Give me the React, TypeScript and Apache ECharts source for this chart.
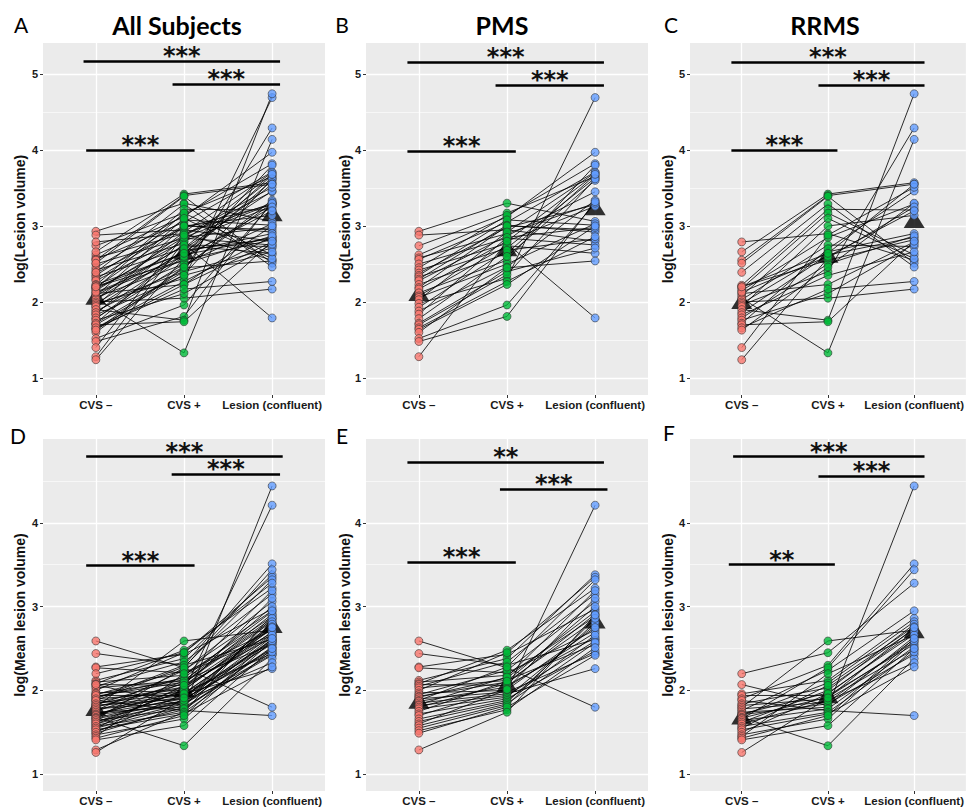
import React, { useEffect, useRef } from "react";
import * as echarts from "echarts";

const CATEGORIES = ["CVS –", "CVS +", "Lesion (confluent)"];
const CATEGORY_POS = [1, 2, 3];
const TOP_Y_TICKS = [1, 2, 3, 4, 5];
const BOTTOM_Y_TICKS = [1, 2, 3, 4];
const MINOR_Y = [1.5, 2.5, 3.5, 4.5];
const COLORS = ["#F8766D", "#00BA38", "#619CFF"];

// PMS subjects – log(Lesion volume); index i is one subject across the three arrays
const PMS_VOL_NEG = [2.93, 2.88, 2.74, 2.62, 2.58, 2.56, 2.5, 2.45, 2.42, 2.38, 2.35, 2.33, 2.3, 2.28, 2.23, 2.19, 2.17, 2.12, 2.08, 2.06, 2.03, 1.98, 1.93, 1.88, 1.84, 1.78, 1.72, 1.7, 1.66, 1.64, 1.6, 1.52, 1.48, 1.28];
const PMS_VOL_POS = [3.3, 2.95, 3.17, 3.12, 2.9, 3.05, 2.84, 3.14, 2.77, 2.98, 3.08, 2.71, 3.01, 2.87, 2.64, 3.0, 2.8, 2.55, 2.74, 2.5, 2.92, 2.31, 2.68, 2.46, 2.85, 2.6, 2.4, 2.36, 2.27, 2.23, 2.45, 1.96, 1.81, 2.8];
const PMS_VOL_CONF = [3.06, 2.8, 3.65, 3.97, 3.3, 3.71, 2.75, 3.82, 1.79, 3.28, 3.01, 3.63, 2.92, 3.45, 3.67, 2.95, 3.26, 3.8, 2.64, 3.03, 3.7, 4.69, 2.83, 3.34, 2.98, 3.6, 2.71, 3.62, 2.86, 3.0, 2.54, 3.3, 3.32, 3.68];

// RRMS subjects – log(Lesion volume)
const RRMS_VOL_NEG = [2.79, 2.66, 2.55, 2.51, 2.39, 2.22, 2.2, 2.18, 2.15, 2.11, 2.08, 2.05, 2.03, 2.0, 1.98, 1.96, 1.94, 1.9, 1.86, 1.83, 1.79, 1.76, 1.72, 1.7, 1.66, 1.63, 1.4, 1.24, 2.13, 2.2];
const RRMS_VOL_POS = [2.9, 3.42, 3.4, 3.39, 3.29, 3.22, 2.55, 3.17, 2.85, 2.23, 3.1, 1.33, 2.75, 2.05, 2.66, 2.4, 3.0, 1.76, 2.62, 2.35, 2.5, 2.11, 2.7, 1.74, 2.17, 2.46, 2.88, 2.58, 2.6, 2.64];
const RRMS_VOL_CONF = [2.55, 3.57, 3.55, 2.51, 2.46, 3.21, 2.82, 2.62, 3.29, 2.79, 2.57, 4.14, 2.73, 2.17, 2.9, 4.29, 3.14, 4.74, 2.85, 2.66, 2.87, 2.76, 3.46, 2.8, 2.27, 3.3, 3.51, 3.25, 3.2, 3.55];

// PMS subjects – log(Mean lesion volume)
const PMS_MEAN_NEG = [2.59, 2.44, 2.28, 2.27, 2.12, 2.1, 2.08, 2.07, 2.05, 2.03, 2.0, 1.97, 1.95, 1.93, 1.92, 1.9, 1.88, 1.87, 1.85, 1.83, 1.82, 1.8, 1.78, 1.75, 1.72, 1.7, 1.66, 1.63, 1.6, 1.58, 1.55, 1.52, 1.49, 1.29];
const PMS_MEAN_POS = [2.27, 2.3, 2.43, 2.21, 2.38, 2.18, 2.48, 2.06, 2.34, 2.12, 2.45, 2.0, 2.24, 2.1, 2.15, 1.98, 2.28, 2.04, 1.96, 2.16, 1.94, 2.08, 1.92, 2.11, 1.9, 2.02, 1.88, 1.86, 2.01, 1.84, 1.82, 1.77, 1.8, 1.74];
const PMS_MEAN_CONF = [1.8, 2.61, 2.97, 2.72, 3.38, 2.88, 3.22, 2.63, 3.15, 2.55, 3.35, 4.21, 3.06, 2.84, 2.94, 2.44, 3.32, 2.69, 2.26, 3.19, 2.59, 2.91, 2.78, 3.0, 2.47, 3.1, 2.66, 2.81, 2.75, 2.57, 2.86, 2.51, 2.42, 2.9];

// RRMS subjects – log(Mean lesion volume)
const RRMS_MEAN_NEG = [2.2, 2.07, 1.96, 1.94, 1.9, 1.88, 1.84, 1.82, 1.8, 1.78, 1.76, 1.74, 1.72, 1.71, 1.7, 1.68, 1.67, 1.66, 1.64, 1.62, 1.6, 1.57, 1.55, 1.53, 1.5, 1.47, 1.45, 1.43, 1.41, 1.26];
const RRMS_MEAN_POS = [2.45, 1.82, 2.12, 1.94, 2.3, 1.76, 2.03, 1.9, 2.59, 1.86, 2.24, 1.8, 1.97, 1.84, 2.09, 1.34, 1.92, 2.27, 1.78, 2.0, 1.88, 1.74, 2.06, 1.72, 1.96, 1.66, 2.2, 1.7, 1.58, 1.91];
const RRMS_MEAN_CONF = [3.28, 2.64, 2.86, 2.55, 3.51, 1.7, 2.73, 2.49, 2.72, 2.61, 2.95, 4.44, 2.67, 2.43, 2.82, 2.38, 2.58, 3.44, 2.52, 2.79, 2.33, 2.46, 2.76, 2.28, 2.7, 2.59, 2.66, 2.62, 2.5, 2.75];

// significance brackets: from category x0 to x1 at height y
const BRACKETS_A = [
  { x0: 0.86, x1: 3.09, y: 5.17, label: "***" },
  { x0: 1.87, x1: 3.09, y: 4.87, label: "***" },
  { x0: 0.89, x1: 2.12, y: 4.0, label: "***" },
];
const BRACKETS_B = [
  { x0: 0.87, x1: 3.1, y: 5.16, label: "***" },
  { x0: 1.87, x1: 3.1, y: 4.85, label: "***" },
  { x0: 0.87, x1: 2.1, y: 3.99, label: "***" },
];
const BRACKETS_C = [
  { x0: 0.88, x1: 3.12, y: 5.16, label: "***" },
  { x0: 1.89, x1: 3.12, y: 4.85, label: "***" },
  { x0: 0.88, x1: 2.11, y: 4.0, label: "***" },
];
const BRACKETS_D = [
  { x0: 0.89, x1: 3.12, y: 4.79, label: "***" },
  { x0: 1.86, x1: 3.09, y: 4.58, label: "***" },
  { x0: 0.89, x1: 2.12, y: 3.49, label: "***" },
];
const BRACKETS_E = [
  { x0: 0.87, x1: 3.1, y: 4.72, label: "**" },
  { x0: 1.92, x1: 3.14, y: 4.4, label: "***" },
  { x0: 0.87, x1: 2.1, y: 3.53, label: "***" },
];
const BRACKETS_F = [
  { x0: 0.9, x1: 3.12, y: 4.79, label: "***" },
  { x0: 1.89, x1: 3.12, y: 4.56, label: "***" },
  { x0: 0.85, x1: 2.08, y: 3.5, label: "**" },
];

type Bracket = { x0: number; x1: number; y: number; label: string };
type Panel = {
  letter: string;
  title: string;
  yName: string;
  cols: number[][];
  brackets: Bracket[];
  row: number;
  col: number;
};

const PANELS: Panel[] = [
  {
    letter: "A", title: "All Subjects", yName: "log(Lesion volume)", row: 0, col: 0,
    cols: [[...PMS_VOL_NEG, ...RRMS_VOL_NEG], [...PMS_VOL_POS, ...RRMS_VOL_POS], [...PMS_VOL_CONF, ...RRMS_VOL_CONF]],
    brackets: BRACKETS_A,
  },
  {
    letter: "B", title: "PMS", yName: "log(Lesion volume)", row: 0, col: 1,
    cols: [PMS_VOL_NEG, PMS_VOL_POS, PMS_VOL_CONF], brackets: BRACKETS_B,
  },
  {
    letter: "C", title: "RRMS", yName: "log(Lesion volume)", row: 0, col: 2,
    cols: [RRMS_VOL_NEG, RRMS_VOL_POS, RRMS_VOL_CONF], brackets: BRACKETS_C,
  },
  {
    letter: "D", title: "", yName: "log(Mean lesion volume)", row: 1, col: 0,
    cols: [[...PMS_MEAN_NEG, ...RRMS_MEAN_NEG], [...PMS_MEAN_POS, ...RRMS_MEAN_POS], [...PMS_MEAN_CONF, ...RRMS_MEAN_CONF]],
    brackets: BRACKETS_D,
  },
  {
    letter: "E", title: "", yName: "log(Mean lesion volume)", row: 1, col: 1,
    cols: [PMS_MEAN_NEG, PMS_MEAN_POS, PMS_MEAN_CONF], brackets: BRACKETS_E,
  },
  {
    letter: "F", title: "", yName: "log(Mean lesion volume)", row: 1, col: 2,
    cols: [RRMS_MEAN_NEG, RRMS_MEAN_POS, RRMS_MEAN_CONF], brackets: BRACKETS_F,
  },
];

// layout
const COL_LEFT = [43, 366, 690];
const GRID_W = 282;
const ROW_TOP = [43, 439];
const ROW_H = [352, 354];
const Y_RANGE = [[0.776, 5.408], [0.8, 5.0]];
const NAME_GAP = [16, 14, 15];
const NAME_SIZE = 14;
const TITLE_X = [177, 502, 825];
const LETTER_POS = [
  [21, 24], [342, 24], [671, 24],
  [18, 435], [342, 435], [669, 432],
];

const mean = (a: number[]) => a.reduce((s, v) => s + v, 0) / a.length;

function buildOption() {
  const grid: any[] = [];
  const xAxis: any[] = [];
  const yAxis: any[] = [];
  const series: any[] = [];
  const graphic: any[] = [];

  PANELS.forEach((p, i) => {
    const r = p.row;
    grid.push({
      left: COL_LEFT[p.col], top: ROW_TOP[r], width: GRID_W, height: ROW_H[r],
      show: true, backgroundColor: "#EBEBEB", borderWidth: 0,
    });
    xAxis.push({
      gridIndex: i, type: "value", min: 0.4, max: 3.6,
      axisLine: { show: false },
      splitLine: { show: false },
      axisTick: { show: true, customValues: CATEGORY_POS, length: 3, lineStyle: { color: "#333", width: 1 } },
      axisLabel: {
        customValues: CATEGORY_POS,
        formatter: (v: number) => CATEGORIES[Math.round(v) - 1] || "",
        fontFamily: "Liberation Sans", fontWeight: "bold", fontSize: 11.5, color: "#1a1a1a", margin: 4,
      },
    });
    const yTicks = r === 0 ? TOP_Y_TICKS : BOTTOM_Y_TICKS;
    yAxis.push({
      gridIndex: i, type: "value", min: Y_RANGE[r][0], max: Y_RANGE[r][1],
      axisLine: { show: false },
      splitLine: { show: false },
      axisTick: { show: true, customValues: yTicks, length: 3, lineStyle: { color: "#333", width: 1 } },
      axisLabel: {
        customValues: yTicks,
        fontFamily: "Liberation Sans", fontWeight: "bold", fontSize: 11, color: "#1a1a1a", margin: 5,
      },
      name: p.yName, nameLocation: "middle", nameGap: NAME_GAP[p.col], nameMoveOverlap: false,
      nameTextStyle: { fontFamily: "Liberation Sans", fontWeight: "bold", fontSize: NAME_SIZE, color: "#111" },
    });

    const gridLines: any[] = [];
    yTicks.forEach((v) => gridLines.push({ yAxis: v, lineStyle: { color: "#ffffff", width: 1.3, type: "solid" } }));
    MINOR_Y.forEach((v) => gridLines.push({ yAxis: v, lineStyle: { color: "#ffffff", width: 0.6, type: "solid" } }));
    CATEGORY_POS.forEach((v) => gridLines.push({ xAxis: v, lineStyle: { color: "#ffffff", width: 1.3, type: "solid" } }));

    // means (triangles) + panel grid lines
    series.push({
      type: "scatter", xAxisIndex: i, yAxisIndex: i, z: 2,
      symbol: "triangle", symbolSize: [21, 17],
      itemStyle: { color: "#000" }, silent: true,
      data: CATEGORY_POS.map((x, k) => [x, mean(p.cols[k])]),
      markLine: {
        z: 1, silent: true, symbol: ["none", "none"], animation: false,
        label: { show: false },
        lineStyle: { type: "solid", color: "#fff" },
        emphasis: { disabled: true },
        data: gridLines,
      },
    });

    // subject lines
    const n = p.cols[0].length;
    const subjects: any[] = [];
    for (let s = 0; s < n; s++) {
      subjects.push({ coords: CATEGORY_POS.map((x, k) => [x, p.cols[k][s]]) });
    }
    series.push({
      type: "lines", coordinateSystem: "cartesian2d", xAxisIndex: i, yAxisIndex: i, z: 3,
      polyline: true, silent: true,
      lineStyle: { color: "#000", width: 1, opacity: 0.82 },
      data: subjects,
    });

    // points
    CATEGORY_POS.forEach((x, k) => {
      const s: any = {
        type: "scatter", xAxisIndex: i, yAxisIndex: i, z: 4,
        symbol: "circle", symbolSize: 8, silent: true,
        itemStyle: { color: COLORS[k], borderColor: "#2a2a2a", borderWidth: 0.7 },
        data: p.cols[k].map((v) => [x, v]),
      };
      if (k === 2) {
        s.markLine = {
          z: 6, silent: true, symbol: ["none", "none"], animation: false,
          lineStyle: { color: "#000", width: 2.6, type: "solid" },
          emphasis: { disabled: true },
          label: {
            show: true, position: "insideMiddleTop", distance: -7,
            fontFamily: "DejaVu Sans", fontWeight: "bold", fontSize: 24, color: "#111",
            formatter: (pr: any) => pr.name,
          },
          data: p.brackets.map((b) => [
            { coord: [b.x0, b.y], name: b.label },
            { coord: [b.x1, b.y] },
          ]),
        };
      }
      series.push(s);
    });

    if (p.title) {
      graphic.push({
        type: "text", x: TITLE_X[p.col], y: 25, silent: true,
        style: { text: p.title, font: "bold 25px Lato", fill: "#000", align: "center", verticalAlign: "middle" },
      });
    }
    graphic.push({
      type: "text", x: LETTER_POS[i][0], y: LETTER_POS[i][1], silent: true,
      style: { text: p.letter, font: "21px Lato", fill: "#000", align: "center", verticalAlign: "middle" },
    });
  });

  return {
    animation: false,
    backgroundColor: "#ffffff",
    grid, xAxis, yAxis, series, graphic,
  };
}

export default function App() {
  const ref = useRef<HTMLDivElement>(null);
  useEffect(() => {
    if (!ref.current) return;
    const chart = echarts.init(ref.current, undefined, { renderer: "svg" });
    chart.setOption(buildOption() as any);
    return () => chart.dispose();
  }, []);
  return (
    <div
      ref={ref}
      style={{ position: "absolute", left: 0, top: 0, width: 967, height: 807, background: "#fff" }}
    />
  );
}
